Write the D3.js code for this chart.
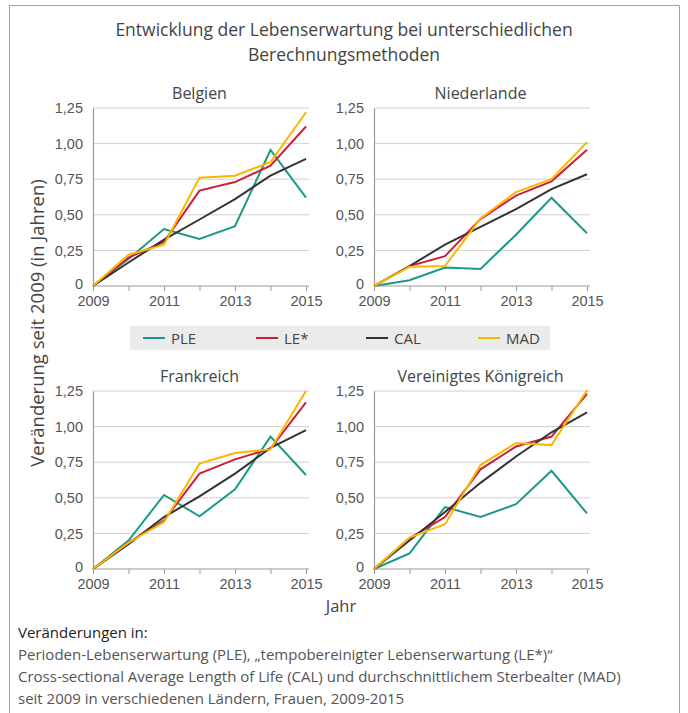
<!DOCTYPE html>
<html>
<head>
<meta charset="utf-8">
<script src="https://cdn.jsdelivr.net/npm/d3@7"></script>
<style>
  body { margin: 0; background: #fff; }
  svg { font-family: "Open Sans", "Noto Sans", sans-serif; }
</style>
</head>
<body>
<svg id="chart" width="688" height="713"></svg>
<script>
const years = [2009, 2010, 2011, 2012, 2013, 2014, 2015];
const yearTicks = [2009, 2011, 2013, 2015];
const valueTicks = [0, 0.25, 0.5, 0.75, 1, 1.25];
const methods = ["PLE", "LE*", "CAL", "MAD"];
const colors = { "PLE": "#1a9a86", "LE*": "#cc1f3a", "CAL": "#333333", "MAD": "#fbb600" };

// values read per country, in order PLE, LE*, CAL, MAD
const belgien = {
  "PLE": [0, 0.19, 0.40, 0.33, 0.42, 0.955, 0.62],
  "LE*": [0, 0.20, 0.31, 0.67, 0.73, 0.845, 1.12],
  "CAL": [0, 0.165, 0.325, 0.467, 0.61, 0.775, 0.893],
  "MAD": [0, 0.22, 0.29, 0.76, 0.775, 0.87, 1.22]
};
const niederlande = {
  "PLE": [0, 0.04, 0.13, 0.12, 0.36, 0.62, 0.37],
  "LE*": [0, 0.14, 0.21, 0.47, 0.635, 0.735, 0.957],
  "CAL": [0, 0.14, 0.29, 0.415, 0.54, 0.68, 0.785],
  "MAD": [0, 0.135, 0.14, 0.475, 0.66, 0.75, 1.01]
};
const frankreich = {
  "PLE": [0, 0.20, 0.52, 0.37, 0.56, 0.93, 0.66],
  "LE*": [0, 0.185, 0.34, 0.67, 0.77, 0.845, 1.17],
  "CAL": [0, 0.175, 0.365, 0.51, 0.67, 0.85, 0.975],
  "MAD": [0, 0.185, 0.33, 0.74, 0.815, 0.84, 1.25]
};
const koenigreich = {
  "PLE": [0, 0.11, 0.435, 0.365, 0.455, 0.69, 0.39],
  "LE*": [0, 0.215, 0.365, 0.70, 0.86, 0.93, 1.23],
  "CAL": [0, 0.20, 0.40, 0.605, 0.79, 0.96, 1.10],
  "MAD": [0, 0.22, 0.315, 0.73, 0.885, 0.87, 1.255]
};

const panels = [
  { name: "Belgien", data: belgien, left: 93, bottom: 286 },
  { name: "Niederlande", data: niederlande, left: 374, bottom: 286 },
  { name: "Frankreich", data: frankreich, left: 93, bottom: 569 },
  { name: "Vereinigtes Königreich", data: koenigreich, left: 374, bottom: 569 }
];

const svg = d3.select("#chart");
const panelW = 213, panelH = 178;
const fmt = v => v === 0 ? "0" : d3.format(".2f")(v).replace(".", ",");

// frame, cut off at the bottom
svg.append("path")
  .attr("d", "M9.5,713 V5.5 H679.5 V713")
  .attr("fill", "none")
  .attr("stroke", "#a0a0a0")
  .attr("stroke-width", 1);

svg.append("text")
  .attr("x", 344).attr("y", 36)
  .attr("text-anchor", "middle")
  .attr("font-size", 17.5).attr("fill", "#444")
  .text("Entwicklung der Lebenserwartung bei unterschiedlichen");
svg.append("text")
  .attr("x", 344).attr("y", 61)
  .attr("text-anchor", "middle")
  .attr("font-size", 17.5).attr("fill", "#444")
  .text("Berechnungsmethoden");

panels.forEach(p => {
  const x = d3.scaleLinear().domain([2009, 2015]).range([p.left, p.left + panelW]);
  const y = d3.scaleLinear().domain([0, 1.25]).range([p.bottom, p.bottom - panelH]);
  const g = svg.append("g");

  // gridlines
  g.selectAll(".grid")
    .data(valueTicks.filter(v => v > 0))
    .join("line")
    .attr("x1", p.left).attr("x2", p.left + panelW + 3)
    .attr("y1", d => y(d)).attr("y2", d => y(d))
    .attr("stroke", "#d0d0d0").attr("stroke-width", 1);

  // y axis
  const yAxis = g.append("g")
    .attr("transform", `translate(${p.left},0)`)
    .call(d3.axisLeft(y).tickValues(valueTicks).tickFormat(fmt).tickSize(0).tickPadding(10));
  yAxis.select(".domain").attr("stroke", "#999").attr("stroke-width", 1.2);
  yAxis.selectAll("text").attr("font-size", 14.5).attr("fill", "#555").attr("font-family", null);
  yAxis.selectAll(".tick").filter(d => d === 0).select("text").attr("dy", "0.2em");

  // x axis, tick marks every year, labels every second year
  const xAxis = g.append("g")
    .attr("transform", `translate(0,${p.bottom})`)
    .call(d3.axisBottom(x).tickValues(years).tickFormat(d3.format("d")).tickSize(5).tickSizeOuter(0).tickPadding(5));
  xAxis.select(".domain").attr("stroke", "#999").attr("stroke-width", 1.2)
    .attr("d", `M${p.left},0H${p.left + panelW + 3}`);
  xAxis.selectAll(".tick line").attr("stroke", "#999");
  xAxis.selectAll(".tick").filter(d => !yearTicks.includes(d)).select("text").remove();
  xAxis.selectAll("text").attr("font-size", 14.5).attr("fill", "#555").attr("font-family", null);

  // panel title
  g.append("text")
    .attr("x", p.left + panelW / 2).attr("y", p.bottom - panelH - 9)
    .attr("text-anchor", "middle")
    .attr("font-size", 16).attr("fill", "#444")
    .text(p.name);

  const line = d3.line()
    .x((d, i) => x(years[i]))
    .y(d => y(d));

  g.selectAll(".series")
    .data(methods)
    .join("path")
    .attr("d", m => line(p.data[m]))
    .attr("fill", "none")
    .attr("stroke", m => colors[m])
    .attr("stroke-width", 2);
});

// legend band
svg.append("rect")
  .attr("x", 130).attr("y", 326).attr("width", 420).attr("height", 24)
  .attr("fill", "#ebebeb");
const legendX = [143, 256, 366, 478];
methods.forEach((m, i) => {
  svg.append("line")
    .attr("x1", legendX[i]).attr("x2", legendX[i] + 22)
    .attr("y1", 338).attr("y2", 338)
    .attr("stroke", colors[m]).attr("stroke-width", 2);
  svg.append("text")
    .attr("x", legendX[i] + 28).attr("y", 343.5)
    .attr("font-size", 15).attr("fill", "#444")
    .text(m);
});

// axis titles
svg.append("text")
  .attr("transform", "translate(44,323) rotate(-90)")
  .attr("text-anchor", "middle")
  .attr("font-size", 18.5).attr("fill", "#444")
  .text("Veränderung seit 2009 (in Jahren)");
svg.append("text")
  .attr("x", 341).attr("y", 612)
  .attr("text-anchor", "middle")
  .attr("font-size", 16.5).attr("fill", "#444")
  .text("Jahr");

// footnote
const notes = [
  "Perioden-Lebenserwartung (PLE), „tempobereinigter Lebenserwartung (LE*)“",
  "Cross-sectional Average Length of Life (CAL) und durchschnittlichem Sterbealter (MAD)",
  "seit 2009 in verschiedenen Ländern, Frauen, 2009-2015"
];
svg.append("text")
  .attr("x", 18).attr("y", 638)
  .attr("font-size", 15).attr("fill", "#222")
  .text("Veränderungen in:");
svg.selectAll(".note")
  .data(notes)
  .join("text")
  .attr("x", 18).attr("y", (d, i) => 660 + i * 22)
  .attr("font-size", 15).attr("fill", "#555")
  .text(d => d);
</script>
</body>
</html>
